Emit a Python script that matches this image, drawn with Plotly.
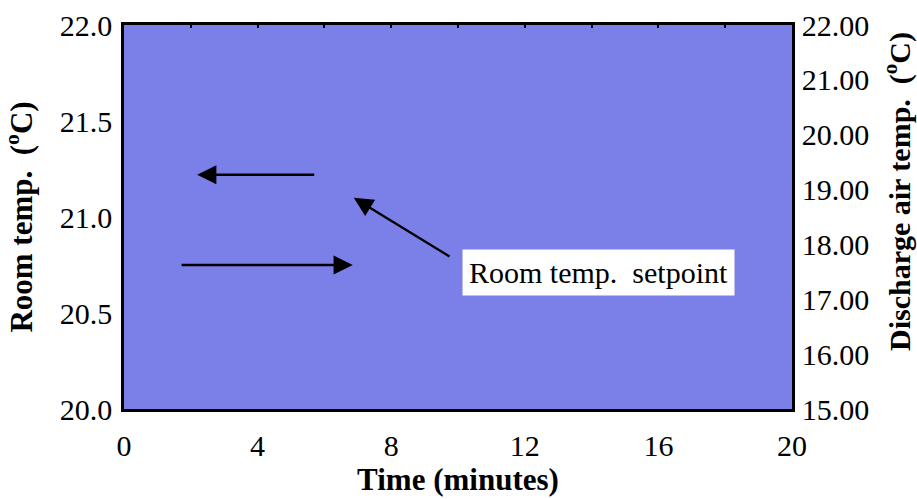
import plotly.graph_objects as go

# Axis ranges / ticks
x_range = [0, 20]
x_ticks = [0, 4, 8, 12, 16, 20]
y_left_range = [20.0, 22.0]
y_left_ticks = [20.0, 20.5, 21.0, 21.5, 22.0]
y_right_range = [15.0, 22.0]
y_right_ticks = [15, 16, 17, 18, 19, 20, 21, 22]

# Annotation arrows (data coordinates: tail -> head)
arrow_tail_x = [5.74, 1.68, 9.79]
arrow_tail_y = [21.22, 20.75, 20.79]
arrow_head_x = [2.19, 6.85, 6.88]
arrow_head_y = [21.22, 20.75, 21.10]

label_text = "Room temp.  setpoint"
label_x = 14.2
label_y = 20.71

font_family = "Liberation Serif, Times New Roman, serif"

fig = go.Figure()
# invisible traces to bind axes
fig.add_trace(go.Scatter(x=x_range, y=y_left_range, mode="markers",
                         marker=dict(opacity=0), showlegend=False, hoverinfo="skip"))
fig.add_trace(go.Scatter(x=x_range, y=y_right_range, mode="markers", yaxis="y2",
                         marker=dict(opacity=0), showlegend=False, hoverinfo="skip"))
fig.add_trace(go.Scatter(x=x_range, y=y_left_range, mode="markers", xaxis="x2",
                         marker=dict(opacity=0), showlegend=False, hoverinfo="skip"))

annotations = []
for tx, ty, hx, hy in zip(arrow_tail_x, arrow_tail_y, arrow_head_x, arrow_head_y):
    annotations.append(dict(x=hx, y=hy, ax=tx, ay=ty, xref="x", yref="y",
                            axref="x", ayref="y", text="", showarrow=True,
                            arrowhead=2, arrowsize=1.6, arrowwidth=2.4,
                            arrowcolor="black"))
annotations.append(dict(x=label_x, y=label_y, xref="x", yref="y", text=label_text,
                        showarrow=False, bgcolor="white", borderpad=6,
                        font=dict(family=font_family, size=30, color="black")))
annotations.append(dict(
    x=1.0, xref="paper", xanchor="center", xshift=105,
    y=0.565, yref="paper", yanchor="middle",
    text="<b>Discharge air temp.  (<sup>o</sup>C)</b>", textangle=-90,
    showarrow=False, font=dict(family=font_family, size=30, color="black")))

fig.update_layout(
    width=917, height=499,
    margin=dict(l=124, r=125, t=25, b=90),
    paper_bgcolor="white",
    plot_bgcolor="#7b7fe8",
    font=dict(family=font_family, size=30, color="black"),
    showlegend=False,
    xaxis=dict(range=x_range, tickvals=x_ticks, ticks="", showgrid=False,
               zeroline=False, showline=True, linecolor="black", linewidth=2.5,
               mirror=True, tickfont=dict(size=30), automargin=False,
               ticklabelstandoff=8,
               title=dict(text="<b>Time (minutes)</b>", font=dict(size=31), standoff=6)),
    xaxis2=dict(range=x_range, overlaying="x", side="top", anchor="y",
                dtick=2, tick0=0, ticks="inside", ticklen=3, tickwidth=1.5,
                tickcolor="black", showticklabels=False, showgrid=False,
                zeroline=False, showline=False),
    yaxis=dict(range=y_left_range, tickvals=y_left_ticks, tickformat=".1f",
               ticks="", showgrid=False, zeroline=False, showline=True,
               linecolor="black", linewidth=2.5, tickfont=dict(size=30),
               automargin=False, ticklabelstandoff=3,
               title=dict(text="<b>Room temp.  (<sup>o</sup>C)</b>", font=dict(size=31), standoff=18)),
    yaxis2=dict(range=y_right_range, tickvals=y_right_ticks, tickformat=".2f",
                overlaying="y", side="right", ticks="", showgrid=False,
                zeroline=False, showline=True, linecolor="black", linewidth=2.5,
                tickfont=dict(size=30), automargin=False, ticklabelstandoff=1),
    annotations=annotations,
)

fig.write_html("out.html", config={"displayModeBar": False},
               post_script="document.body.style.margin='0px';")
